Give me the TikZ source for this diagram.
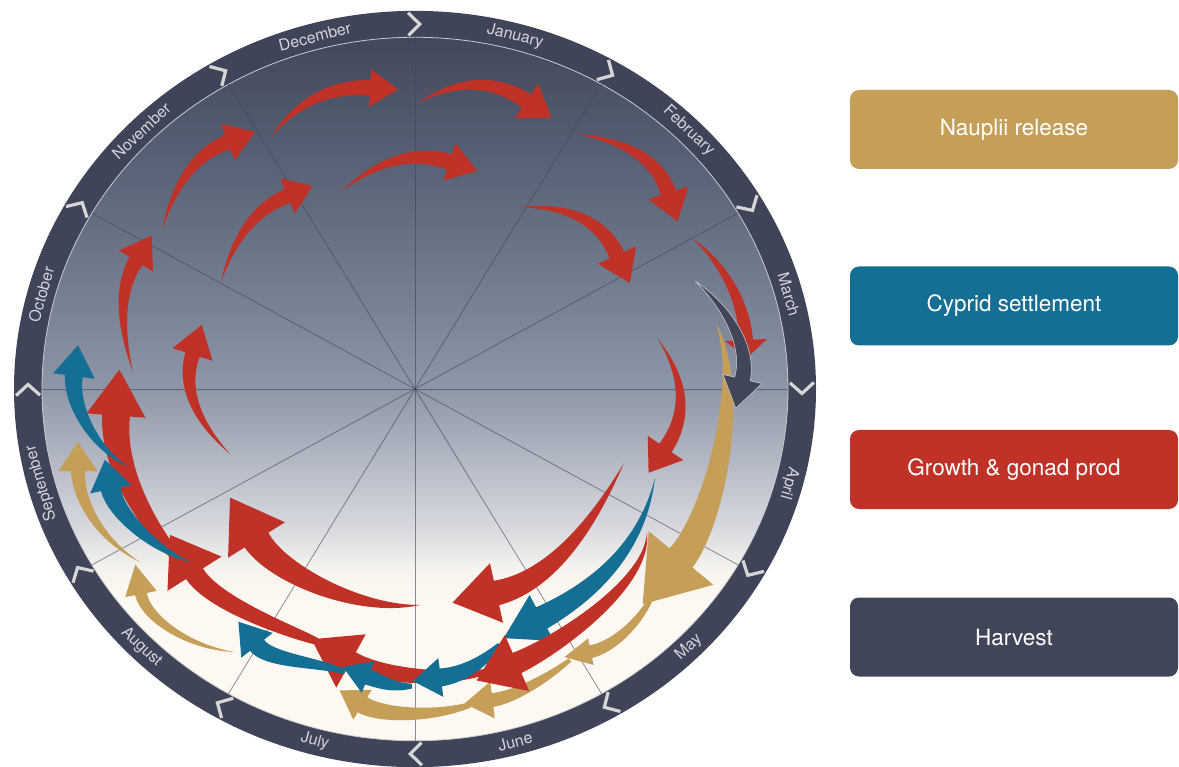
\documentclass[tikz,border=0pt]{standalone}
\usepackage{fontspec}
\setmainfont{TeX Gyre Heros}

% palette
\definecolor{ringnavy}{RGB}{64,68,88}
\definecolor{nauplii}{RGB}{197,159,87}
\definecolor{cypris}{RGB}{21,110,148}
\definecolor{growth}{RGB}{192,50,39}
\definecolor{harvest}{RGB}{65,69,88}
\definecolor{monthgray}{RGB}{212,213,220}
\definecolor{chevron}{RGB}{214,214,214}
% dial background, top to bottom
\definecolor{discA}{RGB}{66,72,92}
\definecolor{discB}{RGB}{85,94,114}
\definecolor{discC}{RGB}{118,128,146}
\definecolor{discD}{RGB}{142,151,167}
\definecolor{discE}{RGB}{184,189,200}
\definecolor{discF}{RGB}{218,219,224}
\definecolor{discG}{RGB}{246,243,238}
\definecolor{discH}{RGB}{253,248,241}

\pgfdeclareverticalshading{discshade}{100bp}{%
  color(0bp)=(discH); color(34.8bp)=(discH); color(37.3bp)=(discG);
  color(39.9bp)=(discF); color(44.2bp)=(discE); color(50bp)=(discD);
  color(56.4bp)=(discC); color(67.1bp)=(discB); color(75bp)=(discA);
  color(100bp)=(discA)}

\begin{document}
\begin{tikzpicture}[x=1pt,y=-1pt,
  % cubic Bezier through the arrow's spine and its tapering half width
  declare function={
    bzx(\pp)=(1-\pp)*(1-\pp)*(1-\pp)*\xa+3*(1-\pp)*(1-\pp)*\pp*\xb+3*(1-\pp)*\pp*\pp*\xc+\pp*\pp*\pp*\xd;
    bzy(\pp)=(1-\pp)*(1-\pp)*(1-\pp)*\ya+3*(1-\pp)*(1-\pp)*\pp*\yb+3*(1-\pp)*\pp*\pp*\yc+\pp*\pp*\pp*\yd;
    bza(\pp)=atan2(3*(1-\pp)*(1-\pp)*(\yb-\ya)+6*(1-\pp)*\pp*(\yc-\yb)+3*\pp*\pp*(\yd-\yc),
                   3*(1-\pp)*(1-\pp)*(\xb-\xa)+6*(1-\pp)*\pp*(\xc-\xb)+3*\pp*\pp*(\xd-\xc));
    bzw(\pp)=0.5*\bw*(\st+(1-\st)*\pp*(1.4-0.4*\pp));
  },
  monthlabel/.style={text=monthgray, font=\fontsize{16}{19}\selectfont, inner sep=0pt},
  legendbox/.style={rounded corners=9pt, minimum width=328pt, minimum height=79pt,
    text=white, font=\fontsize{22.5}{27}\selectfont, inner sep=0pt},
  spoke/.style={draw=ringnavy, draw opacity=0.6, line width=0.8pt},
  chev/.style={draw=chevron, line width=3.2pt, line join=miter},
  arrowgold/.style={fill=nauplii},
  arrowblue/.style={fill=cypris},
  arrowred/.style={fill=growth},
  arrowdark/.style={fill=harvest, draw=white!70!harvest, line width=0.6pt},
]
\useasboundingbox (0,0) rectangle (1179,767);
\fill[white] (0,0) rectangle (1179,767);

% ---- the year dial ----
\begin{scope}[shift={(415,389)}, x=1pt, y=0.943pt]
  \fill[ringnavy] (0,0) ellipse [x radius=401, y radius=401];
  \shade[shading=discshade] (0,0) ellipse [x radius=373, y radius=373];
  \draw[white!72!ringnavy, line width=0.8pt] (0,0) ellipse [x radius=373, y radius=373];
  \foreach \a in {0,30,...,330}{
    \draw[spoke] (0,0) -- (\a:373);
    \draw[chev] (\a+1:399) -- (\a-0.7:387) -- (\a+1:375);
  }
  \foreach \a/\r/\m in {75/-14.2/January, 45/-43.3/February, 15/-74.1/March,
      -15/-105.9/April, -45/43.3/May, -75/14.2/June, -105/-14.2/July,
      -135/-43.3/August, -165/105.9/September, 165/74.1/October,
      135/43.3/November, 105/14.2/December}
    \node[monthlabel, rotate=\r] (m\m) at (\a:387) {\m};
\end{scope}

% ---- life-cycle arrows: style / tail / control / control / head base / body, head width, head length / tail width share ----
\foreach \col/\xa/\ya/\xb/\yb/\xc/\yc/\xd/\yd/\bw/\hw/\hl/\st in {
  arrowgold/716/323/745/390/713/519.5/681/558/30/84/60/0,
  arrowgold/655/590/640/625/610.4/647.7/590.8/651.7/13/27/27/0.3,
  arrowgold/570/660/545/680/512.4/697.6/492.5/700/14/37/28/0.3,
  arrowgold/470/705/430/718/379.5/715.3/362.5/704.7/18/35/27/0.3,
  arrowgold/235/652/190/648/145.75/618.5/141/594/12/32/30/0,
  arrowgold/140/562/100/540/78/500/78/471/14/39/29/0,
  arrowred/271/137/297/102.3/330/86/370/88/16/38/28/0,
  arrowred/418/103/457.3/79.7/493.5/79/526.5/101/16/42/30/0,
  arrowred/577/134/627.7/141.3/658.2/161/668.5/193/16/42/30/0,
  arrowred/692/238/722/262/744/300/746/340/14/42/18/0,
  arrowred/133/372/119/324/120/287/136/261/15/40/30/0,
  arrowred/162/230/174.7/183/196.7/153.7/228/142/15/39/29/0,
  arrowred/221/282/234/237/256.5/208.3/287.5/196/15/38/27/0,
  arrowred/342/191/378.7/160.3/414.5/150.7/449.5/162/16/39/29/0,
  arrowred/520/207/569.3/205.7/601.7/221.7/617/255/16/42/31/0,
  arrowred/658/339/685.3/379/687.8/415.3/665.5/448/15/43/30/0,
  arrowred/230/454/195/419.7/182.5/386.5/192.5/354.5/15/42/31/0,
  arrowred/624/463/584.7/539.7/542.2/583/496.5/593/25/61/45/0,
  arrowred/420/605/360/612/277.7/574/256.5/540/28/67/50/0,
  arrowred/485/672/450/680/381.6/677.9/351/661/20/61/45/0.3,
  arrowred/318/642/310/638/215.9/607.5/194.5/573.7/20/64/46/0.3,
  arrowred/195/575/150/535/112/470/116/415.5/28/59/46/0.2,
  arrowblue/655/478/640/560/577/599.3/541.7/618/24/52/43/0,
  arrowblue/500/645/485/660/465.6/674.3/440.8/677.5/18/39/28/0.3,
  arrowblue/412/686/395/688/382/682.6/368/677/16/34/27/0.3,
  arrowblue/345/672/318/662/269.4/661/257/645.3/18/40/30/0.25,
  arrowblue/190/562/155/550/115.7/513.7/110.8/489.2/20/42/30/0,
  arrowblue/128/467/90/445/70.75/400.75/74/376/18/42/31/0,
  arrowred/647/533/648/585/553.7/647.1/517/663/22/61/44/0,
  arrowdark/695/281/725/305/750.4/345/742.5/379/16/40/30/0}{
  \pgfmathsetmacro\endang{atan2(\yd-\yc,\xd-\xc)}
  \path[\col]
    plot[variable=\s, domain=0:1, samples=30]
      ({bzx(\s)-sin(bza(\s))*bzw(\s)}, {bzy(\s)+cos(bza(\s))*bzw(\s)})
    -- ({\xd-sin(\endang)*\hw/2}, {\yd+cos(\endang)*\hw/2})
    -- ({\xd+cos(\endang)*\hl}, {\yd+sin(\endang)*\hl})
    -- ({\xd+sin(\endang)*\hw/2}, {\yd-cos(\endang)*\hw/2})
    -- plot[variable=\s, domain=0:1, samples=30]
      ({bzx(1-\s)+sin(bza(1-\s))*bzw(1-\s)}, {bzy(1-\s)-cos(bza(1-\s))*bzw(1-\s)})
    -- cycle;
}

% ---- legend ----
\node[legendbox, fill=nauplii] (lnauplii) at (1014,129.5) {Nauplii release};
\node[legendbox, fill=cypris]  (lcypris)  at (1014,306)   {Cyprid settlement};
\node[legendbox, fill=growth]  (lgrowth)  at (1014,469.5) {Growth \& gonad prod};
\node[legendbox, fill=harvest] (lharvest) at (1014,637)   {Harvest};
\end{tikzpicture}
\end{document}
